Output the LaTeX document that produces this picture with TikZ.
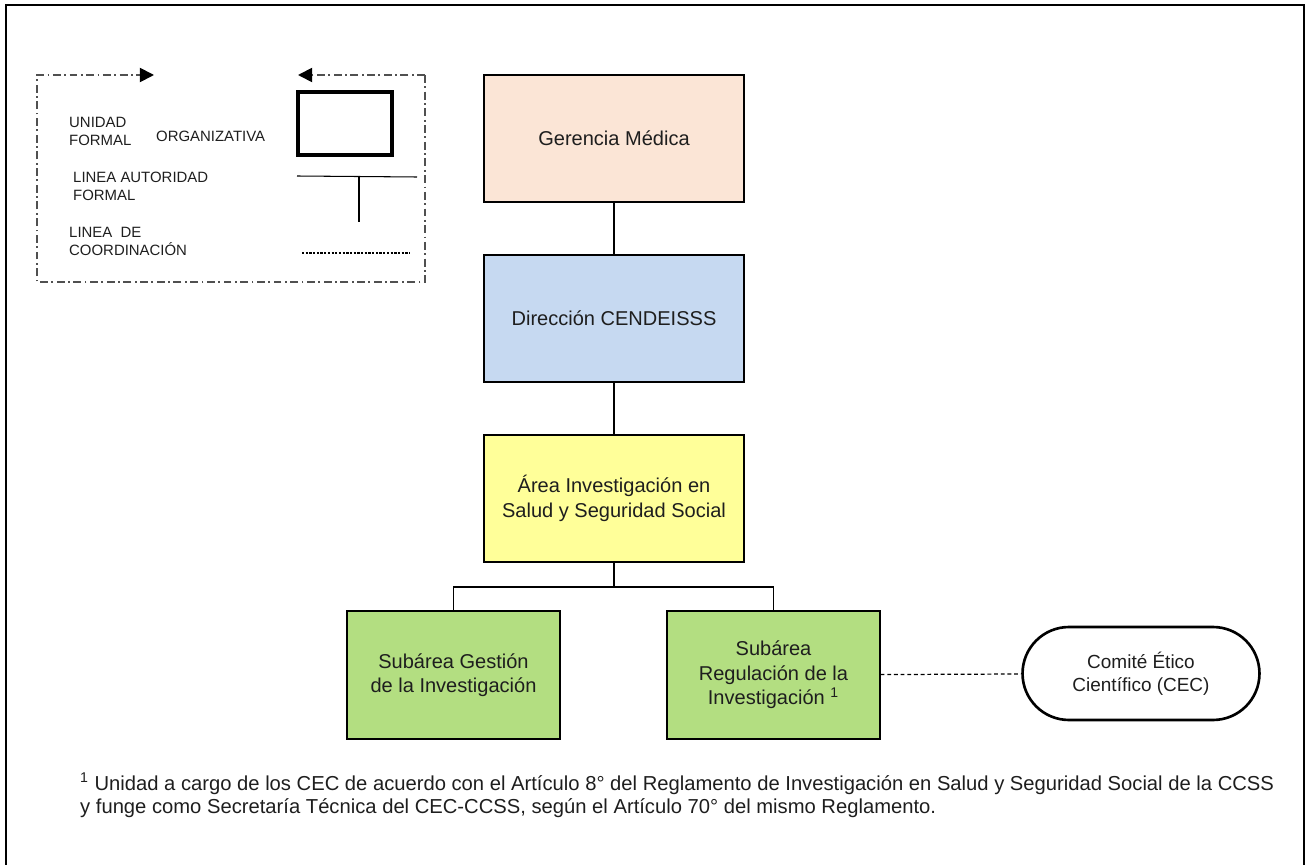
\documentclass[tikz,border=0pt]{standalone}
\usepackage{fontspec}
\setmainfont{Liberation Sans}
\usetikzlibrary{arrows.meta}
\definecolor{peach}{RGB}{251,229,214}
\definecolor{skyblue}{RGB}{198,217,241}
\definecolor{paleyellow}{RGB}{255,255,153}
\definecolor{leafgreen}{RGB}{179,222,129}
\definecolor{legendgray}{RGB}{80,80,80}
\definecolor{inktext}{RGB}{30,30,30}
\begin{document}
\begin{tikzpicture}[x=0.02cm,y=-0.02cm,>={Triangle[length=8pt,width=8pt,black]},text=inktext,
	unit/.style={draw,line width=0.7pt,minimum width=5.2cm,minimum height=2.54cm,align=center,font=\fontsize{11.4}{14}\selectfont},
	subunit/.style={unit,minimum width=4.26cm,minimum height=2.56cm,fill=leafgreen},
	comite/.style={draw,line width=1.5pt,rounded corners=0.93cm,minimum width=4.74cm,minimum height=1.86cm,align=center,font=\fontsize{10.8}{13}\selectfont},
	legtext/.style={anchor=west,align=left,font=\fontsize{8.5}{10.2}\selectfont},
	legline/.style={legendgray,line width=1pt,dash pattern=on 4.5pt off 2pt on 1pt off 2pt}]
		\useasboundingbox (0,0) rectangle (1309,865);
		\draw[line width=1.3pt] (6,880) -- (6,5) -- (1304,5) -- (1304,880);
		% leyenda
		\draw[legline,->] (425,75) -- (425,282) -- (37,282) -- (37,75) -- (154,75);
		\draw[legline,->] (425,75) -- (298,75);
		\node[legtext] (unidad) at (63,131) {UNIDAD\\FORMAL};
		\node[legtext] (organiz) at (150,136) {ORGANIZATIVA};
		\node[legtext] (autoridad) at (67,186) {LINEA AUTORIDAD\\FORMAL};
		\node[legtext] (coordina) at (63,241) {LINEA\ \ DE\\COORDINACIÓN};
		\draw[line width=2pt] (298,92) rectangle (392,155);
		\draw[line width=0.6pt] (297,176) -- (417,177);
		\draw[line width=0.6pt] (359,176) -- (359,222);
		\draw[line width=0.6pt,dash pattern=on 1.3pt off 0.8pt] (302,253) -- (410,253);
		% organigrama
		\node[unit,fill=peach] (gerencia) at (614,138.5) {Gerencia Médica};
		\node[unit,fill=skyblue] (direccion) at (614,318.5) {Dirección CENDEISSS};
		\node[unit,fill=paleyellow] (area) at (614,498.5) {Área Investigación en\\Salud y Seguridad Social};
		\node[subunit] (gestion) at (453.5,675) {Subárea Gestión\\de la Investigación};
		\node[subunit] (regulacion) at (773.5,675) {Subárea\\Regulación de la\\Investigación \textsuperscript{1}};
		\node[comite] (cec) at (1141,673.5) {Comité Ético\\Científico (CEC)};
		\coordinate (rama) at (614,587);
		\draw[line width=0.7pt] (gerencia) -- (direccion);
		\draw[line width=0.7pt] (direccion) -- (area);
		\draw[line width=1.6pt] (area) -- (rama);
		\draw[line width=0.7pt] (gestion.north) |- (rama) -| (regulacion.north);
		\draw[line width=0.7pt,dash pattern=on 2.2pt off 1.6pt] (regulacion) -- (cec);
		% nota
		\node[anchor=north west,align=left,font=\fontsize{11.5}{13}\selectfont] (nota) at (74,767)
			{\textsuperscript{1} Unidad a cargo de los CEC de acuerdo con el Artículo 8° del Reglamento de Investigación en Salud y Seguridad Social de la CCSS\\y funge como Secretaría Técnica del CEC-CCSS, según el Artículo 70° del mismo Reglamento.};
\end{tikzpicture}
\end{document}
